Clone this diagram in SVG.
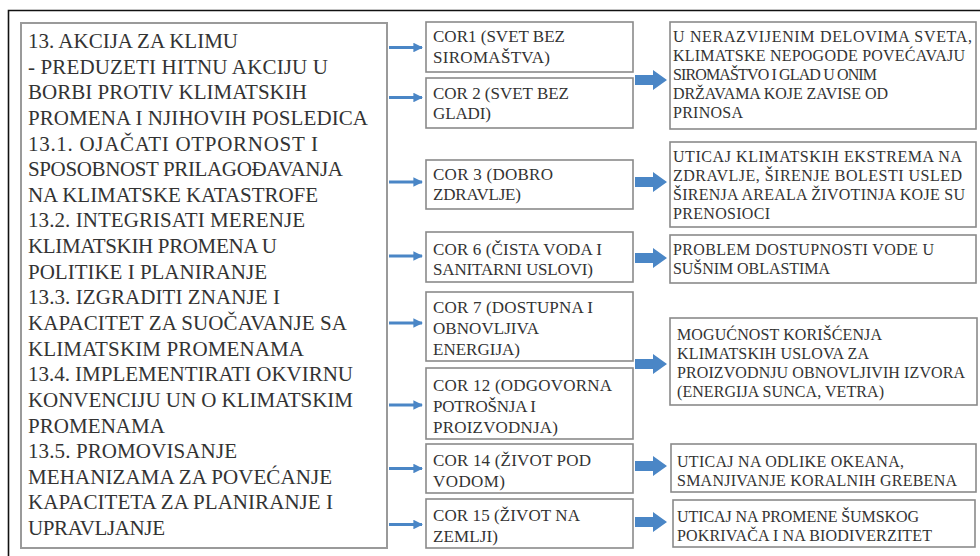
<svg xmlns="http://www.w3.org/2000/svg" width="980" height="556" viewBox="0 0 980 556">
<defs>
<style>
.box{fill:#fff;stroke:#8a8a8a;stroke-width:1.6}
.big{fill:#fff;stroke:#9a9a9a;stroke-width:2}
text{font-family:'Liberation Serif','DejaVu Serif','Times New Roman',serif;fill:#333}
.l{font-size:21px}
.m{font-size:17px}
.r{font-size:16px}
.thin{stroke:#4A86C6;stroke-width:3;fill:none;marker-end:url(#ah)}
.blk{fill:#4A86C6}
</style>
<marker id="ah" viewBox="0 0 10 10" refX="9" refY="5" markerWidth="3.2" markerHeight="3.2" orient="auto" markerUnits="strokeWidth">
<path d="M0,0 L10,5 L0,10 z" fill="#4A86C6"/>
</marker>
</defs>
<rect x="0" y="0" width="980" height="556" fill="#fff"/>
<path d="M8.5,556 V10.5 H980" fill="none" stroke="#111" stroke-width="1.6"/>

<g id="goal13">
<rect class="big" x="21" y="23" width="366" height="525"/>
<g class="l" font-family="Liberation Serif, DejaVu Serif, serif">
<text x="28" y="48" textLength="210" lengthAdjust="spacing">13. AKCIJA ZA KLIMU</text>
<text x="28" y="73.6" textLength="300" lengthAdjust="spacing">- PREDUZETI HITNU AKCIJU U</text>
<text x="28" y="99.3" textLength="279" lengthAdjust="spacing">BORBI PROTIV KLIMATSKIH</text>
<text x="28" y="124.9" textLength="340" lengthAdjust="spacing">PROMENA I NJIHOVIH POSLEDICA</text>
<text x="28" y="150.5" textLength="290" lengthAdjust="spacing">13.1. OJAČATI OTPORNOST I</text>
<text x="28" y="176.2" textLength="315" lengthAdjust="spacing">SPOSOBNOST PRILAGOĐAVANJA</text>
<text x="28" y="201.8" textLength="290" lengthAdjust="spacing">NA KLIMATSKE KATASTROFE</text>
<text x="28" y="227.4" textLength="277" lengthAdjust="spacing">13.2. INTEGRISATI MERENJE</text>
<text x="28" y="253" textLength="249" lengthAdjust="spacing">KLIMATSKIH PROMENA U</text>
<text x="28" y="278.7" textLength="239" lengthAdjust="spacing">POLITIKE I PLANIRANJE</text>
<text x="28" y="304.3" textLength="252" lengthAdjust="spacing">13.3. IZGRADITI ZNANJE I</text>
<text x="28" y="329.9" textLength="319" lengthAdjust="spacing">KAPACITET ZA SUOČAVANJE SA</text>
<text x="28" y="355.6" textLength="276" lengthAdjust="spacing">KLIMATSKIM PROMENAMA</text>
<text x="28" y="381.2" textLength="325" lengthAdjust="spacing">13.4. IMPLEMENTIRATI OKVIRNU</text>
<text x="28" y="406.8" textLength="325" lengthAdjust="spacing">KONVENCIJU UN O KLIMATSKIM</text>
<text x="28" y="432.5" textLength="137" lengthAdjust="spacing">PROMENAMA</text>
<text x="28" y="458.1" textLength="209" lengthAdjust="spacing">13.5. PROMOVISANJE</text>
<text x="28" y="483.7" textLength="304" lengthAdjust="spacing">MEHANIZAMA ZA POVEĆANJE</text>
<text x="28" y="509.3" textLength="305" lengthAdjust="spacing">KAPACITETA ZA PLANIRANJE I</text>
<text x="28" y="535" textLength="137" lengthAdjust="spacing">UPRAVLJANJE</text>
</g>
</g>

<g id="cor1"><rect class="box" x="426" y="22" width="207" height="50"/>
<g class="m"><text x="433" y="42" textLength="132" lengthAdjust="spacing">COR1 (SVET BEZ</text><text x="433" y="63" textLength="117" lengthAdjust="spacing">SIROMAŠTVA)</text></g></g>
<g id="cor2"><rect class="box" x="426" y="78" width="207" height="50"/>
<g class="m"><text x="433" y="99" textLength="136" lengthAdjust="spacing">COR 2 (SVET BEZ</text><text x="433" y="119" textLength="58" lengthAdjust="spacing">GLADI)</text></g></g>
<g id="cor3"><rect class="box" x="426" y="160" width="207" height="49"/>
<g class="m"><text x="433" y="180" textLength="120" lengthAdjust="spacing">COR 3 (DOBRO</text><text x="433" y="200" textLength="88" lengthAdjust="spacing">ZDRAVLJE)</text></g></g>
<g id="cor6"><rect class="box" x="426" y="232" width="207" height="50"/>
<g class="m"><text x="433" y="255" textLength="169" lengthAdjust="spacing">COR 6 (ČISTA VODA I</text><text x="433" y="275" textLength="160" lengthAdjust="spacing">SANITARNI USLOVI)</text></g></g>
<g id="cor7"><rect class="box" x="426" y="292" width="207" height="69"/>
<g class="m"><text x="433" y="313" textLength="160" lengthAdjust="spacing">COR 7 (DOSTUPNA I</text><text x="433" y="334" textLength="106" lengthAdjust="spacing">OBNOVLJIVA</text><text x="433" y="355" textLength="87" lengthAdjust="spacing">ENERGIJA)</text></g></g>
<g id="cor12"><rect class="box" x="426" y="368" width="207" height="71"/>
<g class="m"><text x="433" y="391" textLength="179" lengthAdjust="spacing">COR 12 (ODGOVORNA</text><text x="433" y="412" textLength="103" lengthAdjust="spacing">POTROŠNJA I</text><text x="433" y="433" textLength="125" lengthAdjust="spacing">PROIZVODNJA)</text></g></g>
<g id="cor14"><rect class="box" x="426" y="444" width="207" height="49"/>
<g class="m"><text x="433" y="466" textLength="158" lengthAdjust="spacing">COR 14 (ŽIVOT POD</text><text x="433" y="487" textLength="72" lengthAdjust="spacing">VODOM)</text></g></g>
<g id="cor15"><rect class="box" x="426" y="499" width="207" height="49"/>
<g class="m"><text x="433" y="521" textLength="147" lengthAdjust="spacing">COR 15 (ŽIVOT NA</text><text x="433" y="542" textLength="65" lengthAdjust="spacing">ZEMLJI)</text></g></g>

<g id="impactPoverty"><rect class="box" x="670" y="22" width="306" height="107"/>
<g class="r"><text x="673" y="42" textLength="299" lengthAdjust="spacing">U NERAZVIJENIM  DELOVIMA  SVETA,</text><text x="673" y="61" textLength="292" lengthAdjust="spacing">KLIMATSKE  NEPOGODE POVEĆAVAJU</text><text x="673" y="80" textLength="204" lengthAdjust="spacing">SIROMAŠTVO  I GLAD U ONIM</text><text x="673" y="99" textLength="215" lengthAdjust="spacing">DRŽAVAMA  KOJE ZAVISE  OD</text><text x="673" y="118" textLength="70" lengthAdjust="spacing">PRINOSA</text></g></g>
<g id="impactHealth"><rect class="box" x="670" y="142" width="306" height="85"/>
<g class="r"><text x="673" y="162" textLength="289" lengthAdjust="spacing">UTICAJ  KLIMATSKIH  EKSTREMA  NA</text><text x="673" y="181" textLength="289" lengthAdjust="spacing">ZDRAVLJE,  ŠIRENJE  BOLESTI  USLED</text><text x="673" y="200" textLength="292" lengthAdjust="spacing">ŠIRENJA  AREALA  ŽIVOTINJA  KOJE SU</text><text x="673" y="219" textLength="97" lengthAdjust="spacing">PRENOSIOCI</text></g></g>
<g id="impactWater"><rect class="box" x="670" y="235" width="306" height="48"/>
<g class="r"><text x="673" y="255" textLength="261" lengthAdjust="spacing">PROBLEM  DOSTUPNOSTI  VODE U</text><text x="673" y="274" textLength="157" lengthAdjust="spacing">SUŠNIM  OBLASTIMA</text></g></g>
<g id="impactEnergy"><rect class="box" x="670" y="318" width="307" height="87"/>
<g class="r"><text x="677" y="340" textLength="205" lengthAdjust="spacing">MOGUĆNOST  KORIŠĆENJA</text><text x="677" y="359" textLength="192" lengthAdjust="spacing">KLIMATSKIH  USLOVA  ZA</text><text x="677" y="378" textLength="288" lengthAdjust="spacing">PROIZVODNJU  OBNOVLJIVIH  IZVORA</text><text x="677" y="397" textLength="207" lengthAdjust="spacing">(ENERGIJA  SUNCA,  VETRA)</text></g></g>
<g id="impactOcean"><rect class="box" x="671" y="444" width="305" height="48"/>
<g class="r"><text x="677" y="467" textLength="227" lengthAdjust="spacing">UTICAJ  NA ODLIKE  OKEANA,</text><text x="677" y="486" textLength="280" lengthAdjust="spacing">SMANJIVANJE  KORALNIH  GREBENA</text></g></g>
<g id="impactLand"><rect class="box" x="673" y="500" width="302" height="47"/>
<g class="r"><text x="677" y="522" textLength="242" lengthAdjust="spacing">UTICAJ  NA PROMENE ŠUMSKOG</text><text x="677" y="541" textLength="255" lengthAdjust="spacing">POKRIVAČA  I NA BIODIVERZITET</text></g></g>

<g id="connectors">
<line class="thin" x1="389" y1="47.5" x2="422" y2="47.5"/>
<line class="thin" x1="389" y1="97.5" x2="422" y2="97.5"/>
<line class="thin" x1="389" y1="182" x2="422" y2="182"/>
<line class="thin" x1="389" y1="256" x2="422" y2="256"/>
<line class="thin" x1="389" y1="323" x2="422" y2="323"/>
<line class="thin" x1="389" y1="405" x2="422" y2="405"/>
<line class="thin" x1="389" y1="468.5" x2="422" y2="468.5"/>
<line class="thin" x1="389" y1="524.5" x2="422" y2="524.5"/>
<path class="blk" d="M635,75 H653 V70 L667,80 L653,90 V85 H635 Z"/>
<path class="blk" d="M635,177 H653 V172 L667,182 L653,192 V187 H635 Z"/>
<path class="blk" d="M635,253 H653 V248 L667,258 L653,268 V263 H635 Z"/>
<path class="blk" d="M635,359 H653 V354 L667,364 L653,374 V369 H635 Z"/>
<path class="blk" d="M635,461 H653 V456 L667,466 L653,476 V471 H635 Z"/>
<path class="blk" d="M635,517 H653 V512 L667,522 L653,532 V527 H635 Z"/>
</g>
</svg>
